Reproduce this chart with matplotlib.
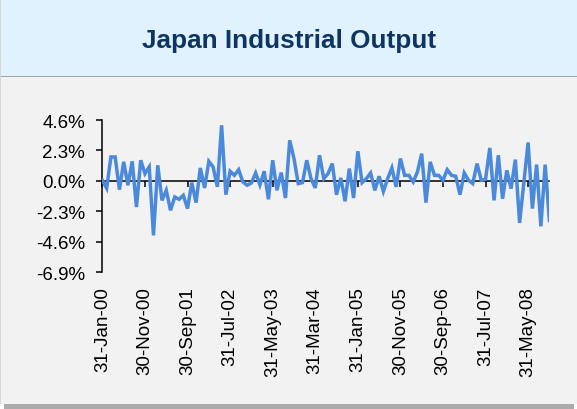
import matplotlib
matplotlib.use("Agg")
import matplotlib.pyplot as plt
from matplotlib.patches import Rectangle
from matplotlib.transforms import blended_transform_factory

# ---------------- data ----------------
values = [
    0.05, -0.55, 1.81, 1.81, -0.66, 1.44, -0.33, 1.48, -1.97, 1.56,
    0.55, 1.06, -4.11, 1.18, -1.47, -0.71, -2.22, -1.21, -1.39, -1.09,
    -2.09, -0.13, -1.64, 0.98, -0.53, 1.48, 1.06, -0.45, 4.20, -1.04,
    0.73, 0.42, 0.85, -0.08, -0.33, -0.15, 0.60, -0.30, 0.73, -1.39,
    1.56, -0.71, 0.63, -1.29, 3.07, 1.69, -0.20, -0.13, 1.56, 0.17,
    -0.53, 1.94, 0.17, 0.55, 1.31, -1.04, 0.23, -1.54, 0.93, -1.29,
    2.24, -0.13, 0.17, 0.60, -0.71, 0.35, -0.79, 0.17, 0.98, -0.45,
    1.69, 0.42, 0.42, -0.08, 0.68, 2.06, -1.64, 1.44, 0.42, 0.42,
    0.05, 0.85, 0.42, 0.35, -1.04, 0.60, 0.05, -0.20, 1.31, 0.05,
    0.12, 2.49, -1.47, 1.94, -1.34, 0.80, -0.58, 1.61, -3.17, -0.12,
    2.90, -2.09, 1.23, -3.43, 1.23, -2.98,
]
xtick_labels = ["31-Jan-00", "30-Nov-00", "30-Sep-01", "31-Jul-02", "31-May-03",
                "31-Mar-04", "31-Jan-05", "30-Nov-05", "30-Sep-06", "31-Jul-07",
                "31-May-08"]
xtick_step = 10
yticks = [4.6, 2.3, 0.0, -2.3, -4.6, -6.9]
ytick_labels = ["4.6%", "2.3%", "0.0%", "-2.3%", "-4.6%", "-6.9%"]
title = "Japan Industrial Output"

# ---------------- figure ----------------
W, H = 577, 410
DPI = 100
fig = plt.figure(figsize=(W / DPI, H / DPI), dpi=DPI, facecolor="white")
plt.rcParams["font.family"] = ["Liberation Sans", "DejaVu Sans"]

def px_rect(x0, y0, x1, y1, **kw):
    """Rectangle given in pixel coords (origin top-left)."""
    r = Rectangle((x0 / W, 1 - y1 / H), (x1 - x0) / W, (y1 - y0) / H,
                  transform=fig.transFigure, **kw)
    fig.patches.append(r)
    return r

# bottom shadow
px_rect(4, 404, 574, 410, facecolor="#ABABAB", edgecolor="none", zorder=0)
# main panel
px_rect(0, 0, 577, 405, facecolor="#F2F2F2", edgecolor="none", zorder=1)
px_rect(0, 0, 1.2, 405, facecolor="#D6D6D6", edgecolor="none", zorder=4)
# title band
px_rect(0, 0, 577, 77, facecolor="#DFF2FE", edgecolor="none", zorder=2)
px_rect(0, 77, 577, 78.3, facecolor="#9EA6AE", edgecolor="none", zorder=3)

fig.text(289 / W, 1 - 41 / H, title, ha="center", va="center",
         fontsize=18.8, fontweight="bold", color="#0E3463", zorder=5)

# ---------------- axes ----------------
left, right = 102.4, 549.4
top, bottom = 121.0, 273.3
ax = fig.add_axes([left / W, 1 - bottom / H, (right - left) / W, (bottom - top) / H])
ax.set_facecolor("none")
ax.set_zorder(10)

x = list(range(len(values)))
ax.plot(x, values, color="#4A89DC", linewidth=2.5, solid_joinstyle="miter", zorder=3)

ax.set_xlim(0, len(values) - 1)
ax.set_ylim(min(yticks), max(yticks))

for s in ("top", "right"):
    ax.spines[s].set_visible(False)
ax.spines["left"].set_color("black")
ax.spines["left"].set_linewidth(1.1)
ax.spines["bottom"].set_position(("data", 0))
ax.spines["bottom"].set_color("black")
ax.spines["bottom"].set_linewidth(1.1)

ax.set_yticks(yticks)
ax.set_yticklabels(ytick_labels)
ax.tick_params(axis="y", direction="out", length=4.5, width=1.1, pad=8,
               labelsize=13.5, colors="black")

tick_pos = list(range(0, len(values), xtick_step))
ax.set_xticks(tick_pos)
ax.tick_params(axis="x", direction="out", length=4, width=1.1, labelbottom=False)

trans = blended_transform_factory(ax.transData, ax.transAxes)
for pos, lab in zip(tick_pos, xtick_labels):
    ax.annotate(lab, xy=(pos, 0), xycoords=trans, xytext=(0, -10),
                textcoords="offset points", rotation=90, ha="center", va="top",
                fontsize=13.5, color="black")

fig.savefig("out.png", dpi=DPI, facecolor=fig.get_facecolor())
